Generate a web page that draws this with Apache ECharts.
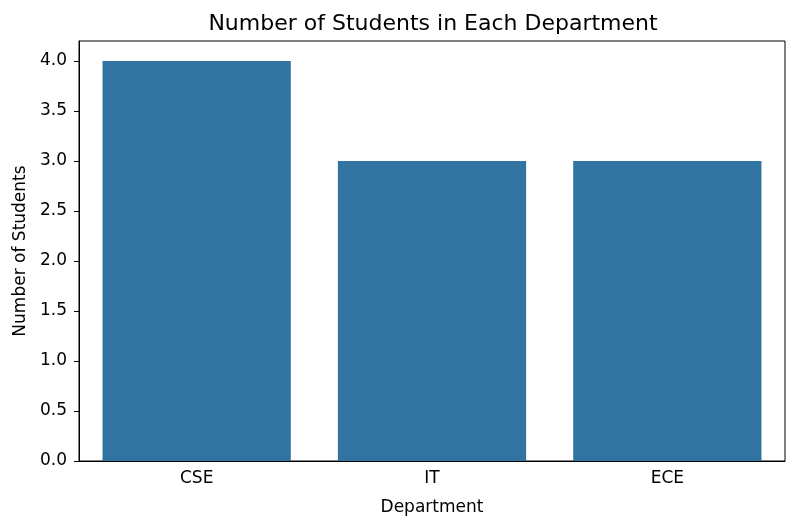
<!DOCTYPE html>
<html>
<head>
<meta charset="utf-8">
<script src="https://cdn.jsdelivr.net/npm/echarts@6/dist/echarts.min.js"></script>
<style>
  html, body { margin: 0; padding: 0; background: #fff; }
  #main { width: 797px; height: 530px; }
</style>
</head>
<body>
<div id="main"></div>
<script>
const departments = ['CSE', 'IT', 'ECE'];
const studentCounts = [4, 3, 3];
const yTicks = [0, 0.5, 1, 1.5, 2, 2.5, 3, 3.5, 4];

const chart = echarts.init(document.getElementById('main'), null, { renderer: 'canvas' });
const font = 'DejaVu Sans';

const option = {
  backgroundColor: '#fff',
  animation: false,
  title: {
    text: 'Number of Students in Each Department',
    left: 428,
    top: 8,
    textAlign: 'center',
    textStyle: { fontFamily: font, fontSize: 22, fontWeight: 'normal', color: '#000' }
  },
  grid: {
    left: 79, right: 12, top: 41, bottom: 69,
    show: true, borderColor: '#000', borderWidth: 1, backgroundColor: 'transparent'
  },
  xAxis: {
    type: 'category',
    data: departments,
    name: 'Department',
    nameLocation: 'middle',
    nameGap: 38,
    nameTextStyle: { fontFamily: font, fontSize: 17, color: '#000' },
    axisLine: { lineStyle: { color: '#000', width: 1 } },
    axisTick: { alignWithLabel: true, length: 5, lineStyle: { color: '#000' } },
    axisLabel: { fontFamily: font, fontSize: 17, color: '#000', margin: 9 },
    splitLine: { show: false }
  },
  yAxis: {
    type: 'value',
    min: 0,
    max: 4.2,
    interval: 0.5,
    name: 'Number of Students',
    nameLocation: 'middle',
    nameGap: 47,
    nameTextStyle: { fontFamily: font, fontSize: 17, color: '#000' },
    axisLine: { show: true, lineStyle: { color: '#000', width: 1 } },
    axisTick: { show: true, length: 5, lineStyle: { color: '#000' }, customValues: yTicks },
    axisLabel: {
      fontFamily: font, fontSize: 17, color: '#000', margin: 12,
      customValues: yTicks,
      formatter: v => v.toFixed(1)
    },
    splitLine: { show: false }
  },
  series: [{
    type: 'bar',
    data: studentCounts,
    barCategoryGap: '20%',
    itemStyle: { color: '#3274a1' }
  }]
};

chart.setOption(option);
</script>
</body>
</html>
